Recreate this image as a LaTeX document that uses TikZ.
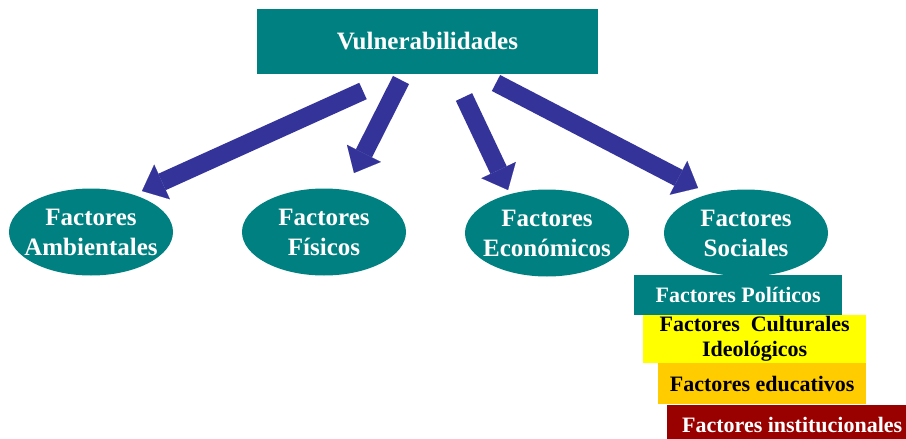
\documentclass[tikz,border=0pt]{standalone}
\usepackage{fontspec}
\setmainfont{Liberation Serif}
\usetikzlibrary{arrows.meta,shapes.geometric}
\definecolor{tealA}{HTML}{008080}
\definecolor{arrowblue}{HTML}{333399}
\definecolor{yelA}{HTML}{FFFF00}
\definecolor{orgA}{HTML}{FFCC00}
\definecolor{dredA}{HTML}{990000}
\begin{document}
\begin{tikzpicture}[x=1pt,y=-1pt,
  factor/.style={ellipse, fill=tealA, minimum width=164pt, minimum height=87pt, inner sep=0pt},
  factext/.style={text=white, inner sep=0pt, align=center, font=\bfseries\fontsize{25}{30}\selectfont},
  bigarrow/.style={draw=arrowblue, line width=18pt, -{Triangle[length=22pt,width=38pt,line width=0.1pt]}},
  subbox/.style={rectangle, anchor=north west, inner sep=0pt, align=center, font=\bfseries\fontsize{22}{25}\selectfont}]
\useasboundingbox (0,0) rectangle (906,439);
\fill[white] (0,0) rectangle (906,439);
\node[fill=tealA, text=white, minimum width=341pt, minimum height=65pt, inner sep=0pt, font=\bfseries\fontsize{25}{30}\selectfont] (top) at (427.5,41.5) {Vulnerabilidades};
\node[factor, label={[factext]center:Factores\\Ambientales}] (amb) at (91,232) {};
\node[factor, label={[factext]center:Factores\\Físicos}] (fis) at (324,232) {};
\node[factor, label={[factext]center:Factores\\Económicos}] (eco) at (547,233) {};
\node[factor, label={[factext]center:Factores\\Sociales}] (soc) at (746,233) {};
\coordinate (a1s) at (363,91);  \coordinate (a1e) at (142,191);
\coordinate (a2s) at (401,80);  \coordinate (a2e) at (354,173);
\coordinate (a3s) at (464,97);  \coordinate (a3e) at (508,190);
\coordinate (a4s) at (496,83);  \coordinate (a4e) at (698,188);
\draw[bigarrow] (a1s) -- (a1e);
\draw[bigarrow] (a2s) -- (a2e);
\draw[bigarrow] (a3s) -- (a3e);
\draw[bigarrow] (a4s) -- (a4e);
\node[subbox, fill=tealA, text=white, minimum width=208pt, minimum height=40pt] (pol) at (634,275) {Factores Políticos};
\node[subbox, fill=yelA, text=black, minimum width=223pt, minimum height=48pt] (cul) at (643,315) {\raisebox{-3pt}{Factores\ \ Culturales}\\\raisebox{-3pt}{Ideológicos}};
\node[subbox, fill=orgA, text=black, minimum width=208pt, minimum height=41pt] (edu) at (658,363) {Factores educativos};
\node[subbox, fill=dredA, text=white, minimum width=250pt, minimum height=40pt] (ins) at (667,405) {Factores institucionales};
\end{tikzpicture}
\end{document}
